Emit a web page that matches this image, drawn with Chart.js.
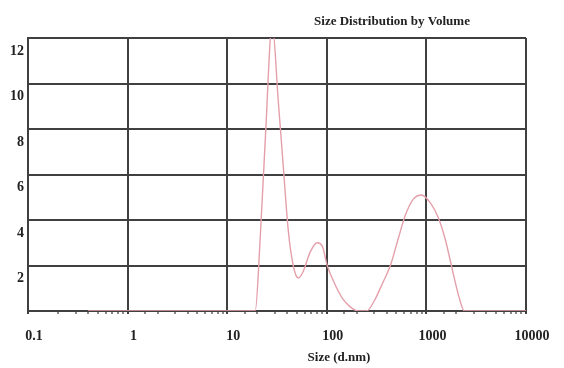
<!DOCTYPE html>
<html>
<head>
<meta charset="utf-8">
<script src="https://cdn.jsdelivr.net/npm/chart.js@4"></script>
<style>
  body { margin: 0; background: #fff; }
</style>
</head>
<body>
<canvas id="sizechart" width="564" height="368"></canvas>
<script>
// size classes (d.nm) and volume (%)
const sizes = [0.4, 1, 5, 10, 15, 19.1, 21.5, 24.1, 28.3, 32.6, 36.5, 41.0, 46.0, 51.7, 58.1, 68.2,
               80.3, 90.1, 101, 119, 143, 172, 207, 250, 300, 361, 435, 523, 615, 740, 891,
               1096, 1321, 1553, 1825, 2099, 2410, 5000, 10000];
const volume = [0, 0, 0, 0, 0, 0, 3.3, 7.5, 12.6, 9.2, 6.4, 3.56, 2.0, 1.45, 1.75, 2.6,
                3.0, 2.85, 2.0, 1.23, 0.57, 0.18, 0, 0, 0.45, 1.2, 2.0, 3.2, 4.22, 4.92, 5.1,
                4.75, 4.09, 3.12, 1.8, 0.7, 0, 0, 0];
const xTicks = [0.1, 1, 10, 100, 1000, 10000];
const yTicks = [2, 4, 6, 8, 10, 12];
const chartTitle = 'Size Distribution by Volume';
const xTitle = 'Size (d.nm)';

const gridColor = '#404040';
const isDecade = v => Math.abs(Math.log10(v) - Math.round(Math.log10(v))) < 1e-6;

const textPlugin = {
    id: 'texts',
    afterDraw(chart) {
        const c = chart.ctx;
        c.save();
        c.fillStyle = '#222';
        c.font = 'bold 13px "Liberation Serif"';
        c.textAlign = 'center';
        c.textBaseline = 'middle';
        c.fillText(chartTitle, 392, 22);
        c.fillText(xTitle, 339, 358);
        c.restore();
    }
};

const ctx = document.getElementById('sizechart').getContext('2d');
const sizechart = new Chart(ctx, {
    type: 'line',
    data: {
        datasets: [{
            data: sizes.map((s, i) => ({ x: s, y: volume[i] })),
            borderColor: 'rgb(228, 160, 170)',
            borderWidth: 1.4,
            pointRadius: 0,
            fill: false,
            cubicInterpolationMode: 'monotone'
        }]
    },
    options: {
        responsive: false,
        animation: false,
        devicePixelRatio: 1,
        layout: { padding: { top: 38, right: 38, left: 0, bottom: 0 } },
        plugins: {
            legend: { display: false },
            tooltip: { enabled: false }
        },
        scales: {
            x: {
                type: 'logarithmic',
                min: 0.1,
                max: 10000,
                afterFit: s => { s.height = 57; },
                border: { display: true, color: gridColor, width: 2 },
                grid: {
                    color: c => isDecade(c.tick.value) ? gridColor : 'rgba(0,0,0,0)',
                    tickColor: c => isDecade(c.tick.value) ? gridColor : '#888',
                    lineWidth: 2,
                    tickLength: 3
                },
                ticks: {
                    autoSkip: false,
                    maxRotation: 0,
                    padding: 14,
                    labelOffset: 6,
                    color: '#222',
                    font: { family: 'Liberation Serif', size: 14, weight: 'bold' },
                    callback: v => {
                        const i = xTicks.findIndex(t => Math.abs(t - v) / t < 1e-6);
                        return i >= 0 ? String(xTicks[i]) : '';
                    }
                }
            },
            y: {
                min: 0,
                max: 12,
                afterFit: s => { s.width = 28; },
                border: { display: true, color: gridColor, width: 2 },
                grid: { color: gridColor, lineWidth: 2, drawTicks: false },
                ticks: {
                    stepSize: 2,
                    padding: 4,
                    labelOffset: 13,
                    color: '#222',
                    font: { family: 'Liberation Serif', size: 14, weight: 'bold' },
                    callback: v => yTicks.includes(v) ? String(v) : ''
                }
            }
        }
    },
    plugins: [textPlugin]
});
</script>
</body>
</html>
